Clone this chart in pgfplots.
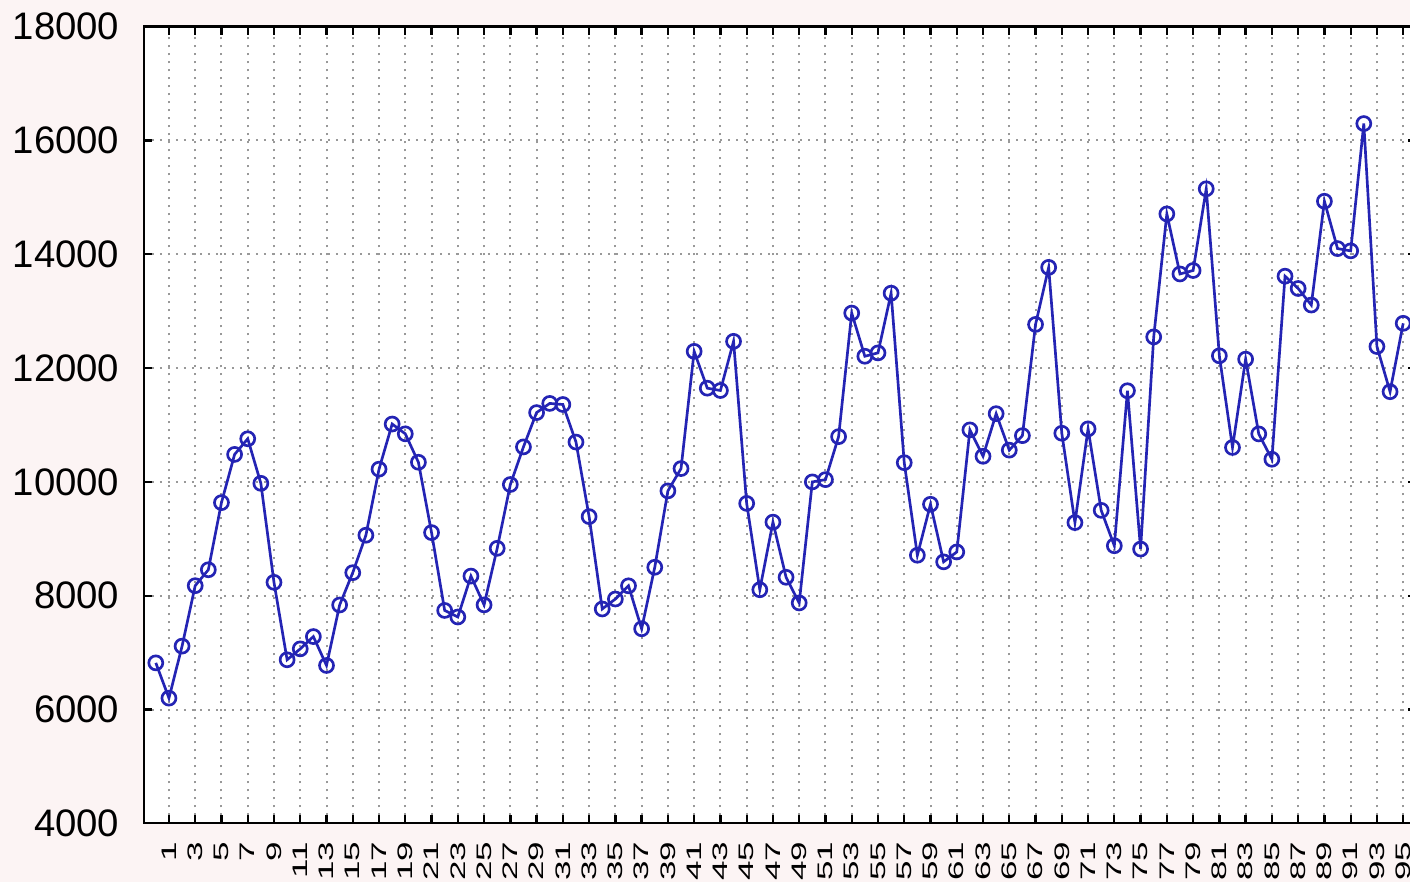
\documentclass[border=0pt]{standalone}
\usepackage{fontspec}
\setmainfont{Liberation Sans}
\usepackage{pgfplots}
\pgfplotsset{compat=1.18}
\definecolor{bgpink}{RGB}{252,244,244}
\definecolor{lineblue}{RGB}{36,36,180}
\begin{document}
\begin{tikzpicture}
\fill[bgpink] (-43.2pt,-17.6pt) rectangle (379.8pt,247pt);
\begin{axis}[
  scale only axis, width=381.7pt, height=239pt,
  at={(0,0)}, anchor=south west,
  xmin=-0.9, xmax=96, ymin=4000, ymax=18000,
  scaled y ticks=false, scaled x ticks=false,
  axis background/.style={fill=white},
  axis line style={line width=0.7pt},
  tick align=inside, major tick length=2.4pt,
  every tick/.style={black, line width=0.7pt},
  xtick={1,3,...,95},
  ytick={4000,6000,...,18000},
  yticklabels={4000,6000,8000,10000,12000,14000,16000,18000},
  yticklabel style={font=\fontsize{11.5}{12}\selectfont, inner sep=0pt, xshift=-7.2pt},
  xticklabel={\pgfmathtruncatemacro{\lab}{round(\tick)}\scalebox{1}[0.6]{\lab}},
  xticklabel style={font=\fontsize{10.5}{10.5}\selectfont, rotate=90, anchor=east, inner xsep=5.4pt, inner ysep=0pt},
  grid=major,
  grid style={gray!80, line width=0.6pt, dash pattern=on 0.6pt off 1.8pt},
]
\addplot[lineblue, line width=0.8pt, mark=o, mark size=2.1pt, mark options={fill=white, solid, line width=0.8pt}] coordinates {
(0,6820) (1,6200) (2,7114) (3,8176) (4,8456) (5,9636) (6,10483) (7,10758) (8,9975) (9,8235)
(10,6874) (11,7066) (12,7282) (13,6774) (14,7837) (15,8405) (16,9063) (17,10224) (18,11017) (19,10845)
(20,10345) (21,9109) (22,7741) (23,7626) (24,8345) (25,7839) (26,8833) (27,9954) (28,10615) (29,11218)
(30,11379) (31,11360) (32,10700) (33,9390) (34,7767) (35,7942) (36,8174) (37,7419) (38,8500) (39,9842)
(40,10234) (41,12294) (42,11647) (43,11606) (44,12470) (45,9622) (46,8105) (47,9293) (48,8324) (49,7873)
(50,10000) (51,10040) (52,10795) (53,12967) (54,12208) (55,12267) (56,13317) (57,10338) (58,8711) (59,9607)
(60,8595) (61,8769) (62,10914) (63,10450) (64,11199) (65,10558) (66,10813) (67,12767) (68,13770) (69,10855)
(70,9285) (71,10932) (72,9500) (73,8878) (74,11602) (75,8820) (76,12548) (77,14709) (78,13654) (79,13715)
(80,15151) (81,12216) (82,10605) (83,12157) (84,10843) (85,10398) (86,13615) (87,13399) (88,13108) (89,14932)
(90,14100) (91,14060) (92,16297) (93,12379) (94,11585) (95,12787)
};
\end{axis}
\pgfresetboundingbox
\path[use as bounding box] (-43.2pt,-17.6pt) rectangle (379.8pt,247pt);
\end{tikzpicture}
\end{document}
